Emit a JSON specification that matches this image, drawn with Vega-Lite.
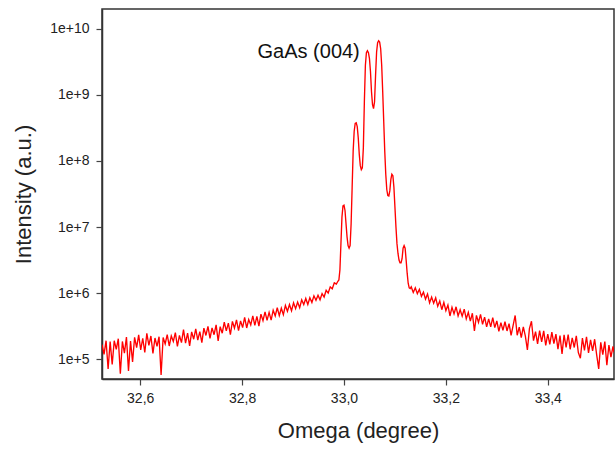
{
"$schema": "https://vega.github.io/schema/vega-lite/v6.json",
"width": 512, "height": 370,
"autosize": {"type": "none"},
"padding": {"left": 102, "top": 9, "right": 2, "bottom": 71},
"background": "white",
"config": {
  "font": "Liberation Sans",
  "view": {"stroke": "#333", "strokeWidth": 1.5},
  "axis": {"grid": false, "domainColor": "#333", "domainWidth": 1.5, "tickColor": "#444", "tickSize": 6, "tickWidth": 1.2, "labelFont": "Liberation Sans", "labelFontSize": 14, "labelColor": "#222", "titleFont": "Liberation Sans", "titleFontSize": 22, "titleFontWeight": "normal", "titleColor": "#222"}
},
"layer": [
  {
    "data": {"values": [
{"omega":32.525,"intensity":1.66e5},{"omega":32.529,"intensity":1.18e5},{"omega":32.533,"intensity":1.9e5},{"omega":32.537,"intensity":7.1e4},{"omega":32.541,"intensity":1.85e5},{"omega":32.545,"intensity":8.3e4},{"omega":32.549,"intensity":1.9e5},{"omega":32.553,"intensity":1.41e5},{"omega":32.557,"intensity":2.04e5},{"omega":32.561,"intensity":6.0e4},
{"omega":32.565,"intensity":1.85e5},{"omega":32.569,"intensity":1.23e5},{"omega":32.573,"intensity":2.15e5},{"omega":32.577,"intensity":6.6e4},{"omega":32.581,"intensity":1.87e5},{"omega":32.585,"intensity":9.1e4},{"omega":32.589,"intensity":2.14e5},{"omega":32.593,"intensity":1.49e5},{"omega":32.597,"intensity":2.33e5},{"omega":32.601,"intensity":1.38e5},
{"omega":32.605,"intensity":2.07e5},{"omega":32.609,"intensity":1.26e5},{"omega":32.613,"intensity":2.46e5},{"omega":32.617,"intensity":1.61e5},{"omega":32.621,"intensity":2.24e5},{"omega":32.625,"intensity":1.22e5},{"omega":32.629,"intensity":2.09e5},{"omega":32.633,"intensity":1.56e5},{"omega":32.637,"intensity":2.18e5},{"omega":32.641,"intensity":5.75e4},
{"omega":32.645,"intensity":2.12e5},{"omega":32.649,"intensity":1.7e5},{"omega":32.653,"intensity":2.35e5},{"omega":32.657,"intensity":1.58e5},{"omega":32.661,"intensity":2.24e5},{"omega":32.665,"intensity":1.85e5},{"omega":32.669,"intensity":2.51e5},{"omega":32.673,"intensity":1.56e5},{"omega":32.677,"intensity":2.28e5},{"omega":32.681,"intensity":1.78e5},
{"omega":32.685,"intensity":2.8e5},{"omega":32.689,"intensity":1.74e5},{"omega":32.693,"intensity":2.47e5},{"omega":32.697,"intensity":1.58e5},{"omega":32.701,"intensity":2.58e5},{"omega":32.705,"intensity":2.0e5},{"omega":32.709,"intensity":2.88e5},{"omega":32.713,"intensity":1.94e5},{"omega":32.717,"intensity":2.6e5},{"omega":32.721,"intensity":1.78e5},
{"omega":32.725,"intensity":2.95e5},{"omega":32.729,"intensity":2.28e5},{"omega":32.733,"intensity":3.13e5},{"omega":32.737,"intensity":2.06e5},{"omega":32.741,"intensity":2.97e5},{"omega":32.745,"intensity":2.34e5},{"omega":32.749,"intensity":3.3e5},{"omega":32.753,"intensity":1.89e5},{"omega":32.757,"intensity":3.1e5},{"omega":32.761,"intensity":2.47e5},
{"omega":32.765,"intensity":3.63e5},{"omega":32.769,"intensity":2.68e5},{"omega":32.773,"intensity":3.5e5},{"omega":32.777,"intensity":2.35e5},{"omega":32.781,"intensity":3.72e5},{"omega":32.785,"intensity":2.93e5},{"omega":32.789,"intensity":3.92e5},{"omega":32.793,"intensity":2.7e5},{"omega":32.797,"intensity":3.8e5},{"omega":32.801,"intensity":3.0e5},
{"omega":32.805,"intensity":4.3e5},{"omega":32.809,"intensity":2.96e5},{"omega":32.813,"intensity":3.98e5},{"omega":32.817,"intensity":3.29e5},{"omega":32.821,"intensity":4.5e5},{"omega":32.825,"intensity":3.24e5},{"omega":32.829,"intensity":4.45e5},{"omega":32.833,"intensity":3.16e5},{"omega":32.837,"intensity":4.8e5},{"omega":32.841,"intensity":3.82e5},
{"omega":32.845,"intensity":5.2e5},{"omega":32.849,"intensity":3.87e5},{"omega":32.853,"intensity":5.1e5},{"omega":32.857,"intensity":3.9e5},{"omega":32.861,"intensity":5.5e5},{"omega":32.865,"intensity":4.5e5},{"omega":32.869,"intensity":6.0e5},{"omega":32.873,"intensity":4.55e5},{"omega":32.877,"intensity":5.9e5},{"omega":32.881,"intensity":4.7e5},
{"omega":32.885,"intensity":6.5e5},{"omega":32.889,"intensity":5.3e5},{"omega":32.893,"intensity":6.7e5},{"omega":32.897,"intensity":5.4e5},{"omega":32.901,"intensity":7.1e5},{"omega":32.905,"intensity":5.8e5},{"omega":32.909,"intensity":7.3e5},{"omega":32.913,"intensity":6.0e5},{"omega":32.917,"intensity":7.9e5},{"omega":32.921,"intensity":6.7e5},
{"omega":32.925,"intensity":8.3e5},{"omega":32.929,"intensity":6.7e5},{"omega":32.933,"intensity":8.5e5},{"omega":32.937,"intensity":7.2e5},{"omega":32.941,"intensity":9.1e5},{"omega":32.945,"intensity":7.8e5},{"omega":32.949,"intensity":9.3e5},{"omega":32.953,"intensity":7.9e5},{"omega":32.957,"intensity":9.8e5},{"omega":32.961,"intensity":8.7e5},
{"omega":32.965,"intensity":1.1e6},{"omega":32.969,"intensity":1.0e6},{"omega":32.973,"intensity":1.24e6},{"omega":32.977,"intensity":1.16e6},{"omega":32.981,"intensity":1.43e6},{"omega":32.985,"intensity":1.37e6},{"omega":32.988,"intensity":1.51e6},
{"omega":32.990,"intensity":1.58e6},{"omega":32.992,"intensity":2.24e6},{"omega":32.994,"intensity":5.6e6},{"omega":32.996,"intensity":1.41e7},{"omega":32.998,"intensity":2.09e7},{"omega":33.000,"intensity":2.14e7},{"omega":33.002,"intensity":1.78e7},{"omega":33.004,"intensity":1.12e7},{"omega":33.006,"intensity":7.1e6},{"omega":33.008,"intensity":5.25e6},
{"omega":33.010,"intensity":4.79e6},{"omega":33.012,"intensity":5.25e6},{"omega":33.014,"intensity":1.12e7},{"omega":33.016,"intensity":3.98e7},{"omega":33.018,"intensity":1.41e8},{"omega":33.020,"intensity":2.82e8},{"omega":33.022,"intensity":3.72e8},{"omega":33.024,"intensity":3.8e8},{"omega":33.026,"intensity":3.31e8},{"omega":33.028,"intensity":2.24e8},
{"omega":33.030,"intensity":1.26e8},{"omega":33.032,"intensity":8.5e7},{"omega":33.034,"intensity":7.4e7},{"omega":33.036,"intensity":7.9e7},{"omega":33.038,"intensity":1.58e8},{"omega":33.040,"intensity":7.9e8},{"omega":33.042,"intensity":2.82e9},{"omega":33.044,"intensity":4.37e9},{"omega":33.046,"intensity":4.68e9},{"omega":33.048,"intensity":4.37e9},
{"omega":33.050,"intensity":3.55e9},{"omega":33.052,"intensity":2.24e9},{"omega":33.054,"intensity":1.12e9},{"omega":33.056,"intensity":7.1e8},{"omega":33.058,"intensity":6.2e8},{"omega":33.060,"intensity":7.9e8},{"omega":33.062,"intensity":2.0e9},{"omega":33.064,"intensity":4.47e9},{"omega":33.066,"intensity":6.17e9},{"omega":33.068,"intensity":6.61e9},
{"omega":33.070,"intensity":6.31e9},{"omega":33.072,"intensity":5.0e9},{"omega":33.074,"intensity":2.82e9},{"omega":33.076,"intensity":1.12e9},{"omega":33.078,"intensity":3.98e8},{"omega":33.080,"intensity":1.41e8},{"omega":33.082,"intensity":6.3e7},{"omega":33.084,"intensity":3.7e7},{"omega":33.086,"intensity":3.0e7},{"omega":33.088,"intensity":2.95e7},
{"omega":33.090,"intensity":3.55e7},{"omega":33.092,"intensity":5.25e7},{"omega":33.094,"intensity":6.3e7},{"omega":33.096,"intensity":6.0e7},{"omega":33.098,"intensity":3.98e7},{"omega":33.100,"intensity":2.0e7},{"omega":33.102,"intensity":1.0e7},{"omega":33.104,"intensity":5.6e6},{"omega":33.106,"intensity":3.98e6},{"omega":33.108,"intensity":3.16e6},
{"omega":33.110,"intensity":2.88e6},{"omega":33.112,"intensity":2.88e6},{"omega":33.114,"intensity":3.31e6},{"omega":33.116,"intensity":4.79e6},{"omega":33.118,"intensity":5.25e6},{"omega":33.120,"intensity":4.79e6},{"omega":33.122,"intensity":3.16e6},{"omega":33.124,"intensity":2.0e6},{"omega":33.126,"intensity":1.41e6},{"omega":33.128,"intensity":1.2e6},
{"omega":33.130,"intensity":1.17e6},
{"omega":33.132,"intensity":1.24e6},{"omega":33.136,"intensity":1.02e6},{"omega":33.140,"intensity":1.2e6},{"omega":33.144,"intensity":9.8e5},{"omega":33.148,"intensity":1.14e6},{"omega":33.152,"intensity":8.9e5},{"omega":33.156,"intensity":1.03e6},{"omega":33.160,"intensity":8.1e5},{"omega":33.164,"intensity":9.7e5},{"omega":33.168,"intensity":7.1e5},
{"omega":33.172,"intensity":8.7e5},{"omega":33.176,"intensity":7.0e5},{"omega":33.180,"intensity":8.5e5},{"omega":33.184,"intensity":6.3e5},{"omega":33.188,"intensity":7.6e5},{"omega":33.192,"intensity":5.6e5},{"omega":33.196,"intensity":7.2e5},{"omega":33.200,"intensity":5.4e5},{"omega":33.204,"intensity":6.6e5},{"omega":33.208,"intensity":4.5e5},
{"omega":33.212,"intensity":6.1e5},{"omega":33.216,"intensity":4.85e5},{"omega":33.220,"intensity":6.2e5},{"omega":33.224,"intensity":4.5e5},{"omega":33.228,"intensity":5.6e5},{"omega":33.232,"intensity":4.47e5},{"omega":33.236,"intensity":5.7e5},{"omega":33.240,"intensity":4.07e5},{"omega":33.244,"intensity":5.1e5},{"omega":33.248,"intensity":3.77e5},
{"omega":33.252,"intensity":4.95e5},{"omega":33.256,"intensity":2.67e5},{"omega":33.260,"intensity":4.6e5},{"omega":33.264,"intensity":3.6e5},{"omega":33.268,"intensity":4.75e5},{"omega":33.272,"intensity":3.37e5},{"omega":33.276,"intensity":4.33e5},{"omega":33.280,"intensity":3.08e5},{"omega":33.284,"intensity":4.06e5},{"omega":33.288,"intensity":3.08e5},
{"omega":33.292,"intensity":4.26e5},{"omega":33.296,"intensity":3.0e5},{"omega":33.300,"intensity":3.8e5},{"omega":33.304,"intensity":2.64e5},{"omega":33.308,"intensity":3.56e5},{"omega":33.312,"intensity":2.72e5},{"omega":33.316,"intensity":3.68e5},{"omega":33.320,"intensity":2.67e5},{"omega":33.324,"intensity":3.44e5},{"omega":33.328,"intensity":2.28e5},
{"omega":33.332,"intensity":3.23e5},{"omega":33.336,"intensity":4.58e5},{"omega":33.340,"intensity":2.3e5},{"omega":33.344,"intensity":3.05e5},{"omega":33.348,"intensity":2.11e5},{"omega":33.352,"intensity":3.07e5},{"omega":33.356,"intensity":2.23e5},{"omega":33.360,"intensity":1.38e5},{"omega":33.364,"intensity":2.9e5},{"omega":33.368,"intensity":3.75e5},
{"omega":33.372,"intensity":1.9e5},{"omega":33.376,"intensity":2.6e5},{"omega":33.380,"intensity":1.7e5},{"omega":33.384,"intensity":2.7e5},{"omega":33.388,"intensity":1.83e5},{"omega":33.392,"intensity":2.67e5},{"omega":33.396,"intensity":1.61e5},{"omega":33.400,"intensity":2.4e5},{"omega":33.404,"intensity":1.67e5},{"omega":33.408,"intensity":2.57e5},
{"omega":33.412,"intensity":1.71e5},{"omega":33.416,"intensity":2.39e5},{"omega":33.420,"intensity":1.42e5},{"omega":33.424,"intensity":2.27e5},{"omega":33.428,"intensity":1.2e5},{"omega":33.432,"intensity":2.33e5},{"omega":33.436,"intensity":1.51e5},{"omega":33.440,"intensity":2.36e5},{"omega":33.444,"intensity":1.41e5},{"omega":33.448,"intensity":2.09e5},
{"omega":33.452,"intensity":1.5e5},{"omega":33.456,"intensity":2.25e5},{"omega":33.460,"intensity":1.26e5},{"omega":33.464,"intensity":1.03e5},{"omega":33.468,"intensity":2.08e5},{"omega":33.472,"intensity":1.36e5},{"omega":33.476,"intensity":2.18e5},{"omega":33.480,"intensity":1.24e5},{"omega":33.484,"intensity":1.95e5},{"omega":33.488,"intensity":1.33e5},
{"omega":33.492,"intensity":2.0e5},{"omega":33.496,"intensity":1.16e5},{"omega":33.500,"intensity":7.1e4},{"omega":33.504,"intensity":1.79e5},{"omega":33.508,"intensity":1.17e5},{"omega":33.512,"intensity":1.84e5},{"omega":33.516,"intensity":8.1e4},{"omega":33.520,"intensity":1.63e5},{"omega":33.524,"intensity":1.07e5},{"omega":33.528,"intensity":1.56e5},
{"omega":33.530,"intensity":1.26e5}
    ]},
    "mark": {"type": "line", "color": "#ff0000", "strokeWidth": 1.35, "clip": true},
    "encoding": {
      "x": {"field": "omega", "type": "quantitative", "scale": {"domain": [32.525, 33.53], "nice": false, "zero": false},
            "axis": {"title": "Omega (degree)", "values": [32.6, 32.8, 33.0, 33.2, 33.4], "labelExpr": "replace(format(datum.value, '.1f'), '.', ',')", "labelPadding": 6, "titlePadding": 15}},
      "y": {"field": "intensity", "type": "quantitative", "scale": {"type": "log", "domain": [5e4, 2e10], "nice": false},
            "axis": {"title": "Intensity (a.u.)", "values": [1e5, 1e6, 1e7, 1e8, 1e9, 1e10], "format": ".0e", "labelPadding": 7, "titlePadding": 14}}
    }
  },
  {
    "data": {"values": [{"omega": 33.031, "intensity": 4.4e9, "label": "GaAs (004)"}]},
    "mark": {"type": "text", "align": "right", "baseline": "middle", "fontSize": 20, "color": "#111", "font": "Liberation Sans"},
    "encoding": {
      "x": {"field": "omega", "type": "quantitative"},
      "y": {"field": "intensity", "type": "quantitative"},
      "text": {"field": "label"}
    }
  }
]
}
